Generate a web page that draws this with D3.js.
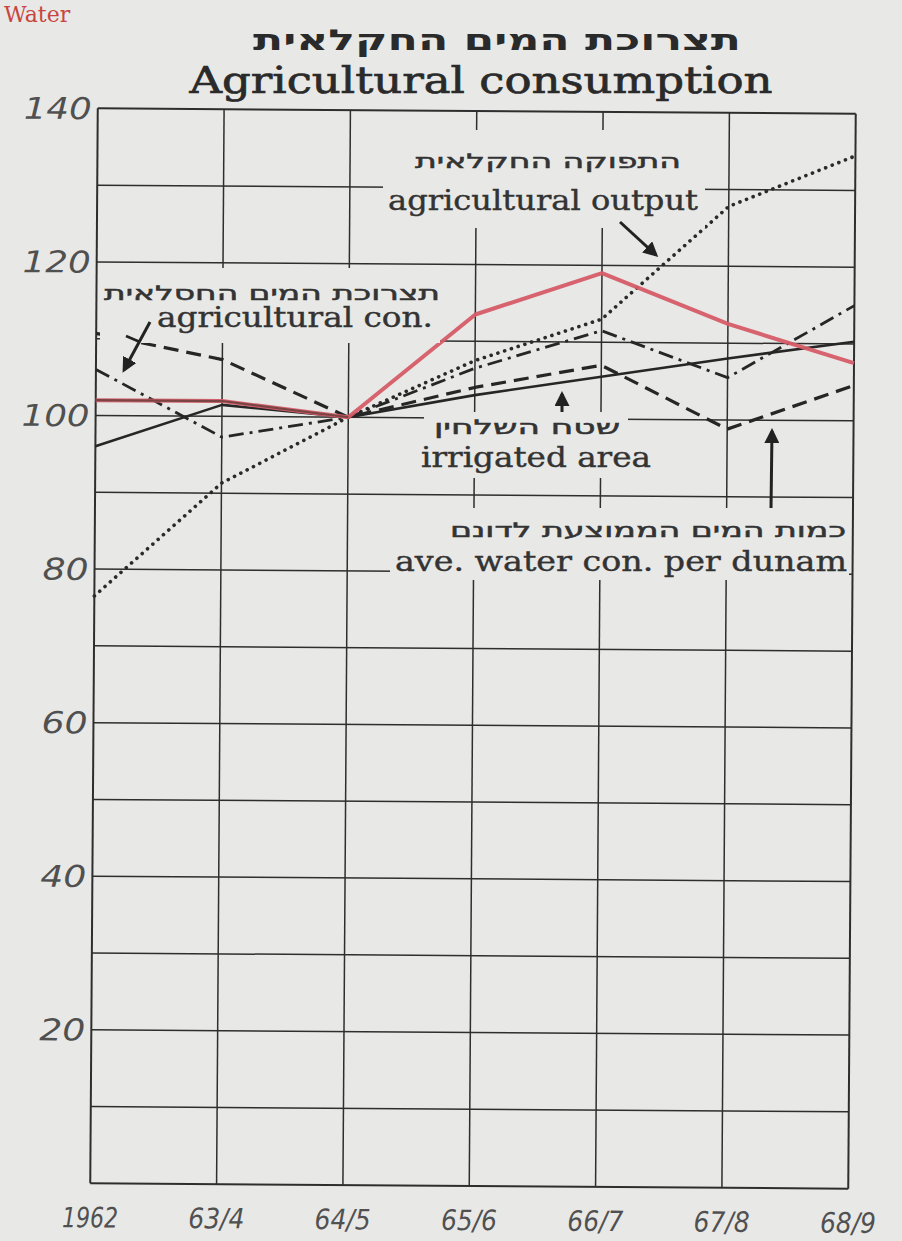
<!DOCTYPE html>
<html>
<head>
<meta charset="utf-8">
<script src="https://cdn.jsdelivr.net/npm/d3@7"></script>
<style>
  html, body { margin: 0; padding: 0; background: #e8e8e6; }
  svg { display: block; }
</style>
</head>
<body>
<svg id="chart" width="902" height="1241"></svg>
<script>
// ---------------- data ----------------
const categories = ["1962", "63/4", "64/5", "65/6", "66/7", "67/8", "68/9"];
const totalConsumption = [102, 102, 100, 113.5, 119, 112.5, 107.5];   // red solid
const irrigatedArea    = [96, 101.5, 100, 103, 105.5, 108, 110.3];    // black solid
const waterPerDunam    = [110.7, 107.4, 100, 104, 107, 98.8, 104.6];  // dashed
const agriConsumption  = [106, 97.3, 100, 106.5, 111.5, 105.5, 115];  // dash-dot
const agriOutput       = [76.5, 91.3, 100, 107.5, 113, 127.8, 134.5]; // dotted
const yTickLabels = [20, 40, 60, 80, 100, 120, 140];
const gridValues = d3.range(0, 150, 10);

const titleHe = "תצרוכת המים החקלאית";
const titleEn = "Agricultural consumption";

// ---------------- setup ----------------
const svg = d3.select("#chart");
const bg = "#e8e8e6";
const ink = "#2e2e2e";

const x = d3.scalePoint().domain(categories).range([94, 852]);
const y = d3.scaleLinear().domain([0, 140]).range([1186, 111]);

// red header word in the top-left corner
svg.append("text")
  .attr("x", 4).attr("y", 22)
  .attr("font-family", "DejaVu Serif")
  .attr("font-size", 22)
  .attr("fill", "#c8463f")
  .text("Water");

// titles
svg.append("text")
  .attr("x", 497).attr("y", 50)
  .attr("text-anchor", "middle")
  .attr("font-family", "DejaVu Sans")
  .attr("font-weight", "bold")
  .attr("font-size", 29)
  .attr("fill", "#2a2a2a")
  .attr("textLength", 488).attr("lengthAdjust", "spacingAndGlyphs")
  .text(titleHe);

svg.append("text")
  .attr("x", 481).attr("y", 93)
  .attr("text-anchor", "middle")
  .attr("font-family", "DejaVu Serif")
  .attr("font-size", 37)
  .attr("fill", "#2a2a2a")
  .attr("stroke", "#2a2a2a").attr("stroke-width", 0.7)
  .attr("textLength", 583).attr("lengthAdjust", "spacingAndGlyphs")
  .text(titleEn);

// rotated chart group (scan is slightly tilted)
const g = svg.append("g").attr("transform", "rotate(0.4 473 648)");

// grid
g.append("g").selectAll("line.h").data(gridValues).join("line")
  .attr("x1", x.range()[0]).attr("x2", x.range()[1])
  .attr("y1", d => y(d)).attr("y2", d => y(d))
  .attr("stroke", ink).attr("stroke-width", d => (d === 0 || d === 140) ? 2 : 1.5);

g.append("g").selectAll("line.v").data(categories).join("line")
  .attr("x1", d => x(d)).attr("x2", d => x(d))
  .attr("y1", y(140)).attr("y2", y(0))
  .attr("stroke", ink).attr("stroke-width", (d, i) => (i === 0 || i === categories.length - 1) ? 2 : 1.5);

// y tick labels
g.append("g").selectAll("text").data(yTickLabels).join("text")
  .attr("x", x.range()[0] - 6)
  .attr("y", d => y(d))
  .attr("dy", "0.36em")
  .attr("text-anchor", "end")
  .attr("font-family", "DejaVu Sans")
  .attr("font-style", "italic")
  .attr("font-weight", 300)
  .attr("font-size", 30)
  .attr("fill", "#505050")
  .attr("textLength", d => String(d).length === 3 ? 68 : 46)
  .attr("lengthAdjust", "spacingAndGlyphs")
  .text(d => d);

// x tick labels
g.append("g").selectAll("text").data(categories).join("text")
  .attr("x", d => x(d))
  .attr("y", y(0) + 44)
  .attr("text-anchor", "middle")
  .attr("font-family", "DejaVu Sans")
  .attr("font-style", "italic")
  .attr("font-weight", 300)
  .attr("font-size", 28)
  .attr("fill", "#505050")
  .attr("textLength", 56)
  .attr("lengthAdjust", "spacingAndGlyphs")
  .text(d => d);

// masks where labels interrupt the grid (screen coordinates)
const masks = [
  [383, 130, 322, 98],
  [100, 268, 340, 75],
  [424, 412, 204, 66],
  [390, 508, 459, 72]
];
svg.append("g").selectAll("rect").data(masks).join("rect")
  .attr("x", d => d[0]).attr("y", d => d[1])
  .attr("width", d => d[2]).attr("height", d => d[3])
  .attr("fill", bg);

// data lines
const line = d3.line().x((d, i) => x(categories[i])).y(d => y(d));
const lines = g.append("g").attr("fill", "none").attr("stroke-linejoin", "round");

lines.append("path").datum(agriOutput).attr("d", line)
  .attr("stroke", "#2a2a2a").attr("stroke-width", 3.6)
  .attr("stroke-linecap", "round").attr("stroke-dasharray", "0.1,7");

lines.append("path").datum(irrigatedArea).attr("d", line)
  .attr("stroke", "#262626").attr("stroke-width", 2.6);

lines.append("path").datum(waterPerDunam).attr("d", line)
  .attr("stroke", "#262626").attr("stroke-width", 3.2)
  .attr("stroke-dasharray", "15,8");

lines.append("path").datum(agriConsumption).attr("d", line)
  .attr("stroke", "#262626").attr("stroke-width", 2.8)
  .attr("stroke-dasharray", "15,6,3,6");

lines.append("path").datum(totalConsumption).attr("d", line)
  .attr("stroke", "#d65c68").attr("stroke-width", 4).attr("opacity", 0.95);

lines.append("path").datum(totalConsumption.slice(0, 3)).attr("d", line)
  .attr("stroke", "#7a4444").attr("stroke-width", 2.2);

// annotation text
const heFont = "DejaVu Sans";
const enFont = "DejaVu Serif";
function label(txt, cx, by, len, size, font, weight, sw) {
  svg.append("text")
    .attr("x", cx).attr("y", by)
    .attr("text-anchor", "middle")
    .attr("font-family", font)
    .attr("font-size", size)
    .attr("font-weight", weight || "normal")
    .attr("fill", "#333")
    .attr("stroke", "#333").attr("stroke-width", sw || 0)
    .attr("textLength", len).attr("lengthAdjust", "spacingAndGlyphs")
    .text(txt);
}
label("התפוקה החקלאית", 548, 168, 266, 20, heFont, "normal", 0.5);
label("agricultural output", 543, 210, 310, 27, enFont, "normal", 0.4);
label("תצרוכת המים החסלאית", 272, 300, 336, 20, heFont, "normal", 0.5);
label("agricultural con.", 295, 327, 276, 27, enFont, "normal", 0.4);
label("שטח השלחין", 527, 434, 186, 20, heFont, "normal", 0.5);
label("irrigated area", 536, 467, 230, 27, enFont, "normal", 0.4);
label("כמות המים הממוצעת לדונם", 648, 537, 396, 20, heFont, "normal", 0.5);
label("ave. water con. per dunam", 621, 571, 452, 27, enFont, "normal", 0.4);

// arrows
const defs = svg.append("defs");
defs.append("marker").attr("id", "ah")
  .attr("viewBox", "0 0 10 10").attr("refX", 8).attr("refY", 5)
  .attr("markerWidth", 5).attr("markerHeight", 5)
  .attr("orient", "auto")
  .append("path").attr("d", "M0,0 L10,5 L0,10 Z").attr("fill", "#222");

const arrows = [
  [620, 222, 656, 255],
  [150, 322, 124, 370],
  [562, 412, 562, 394],
  [771, 508, 772, 431]
];
svg.append("g").selectAll("line").data(arrows).join("line")
  .attr("x1", d => d[0]).attr("y1", d => d[1])
  .attr("x2", d => d[2]).attr("y2", d => d[3])
  .attr("stroke", "#222").attr("stroke-width", 3)
  .attr("marker-end", "url(#ah)");

// small fork of the "agricultural con." pointer
svg.append("line")
  .attr("x1", 140).attr("y1", 342).attr("x2", 126).attr("y2", 336)
  .attr("stroke", "#222").attr("stroke-width", 2.5);
</script>
</body>
</html>
